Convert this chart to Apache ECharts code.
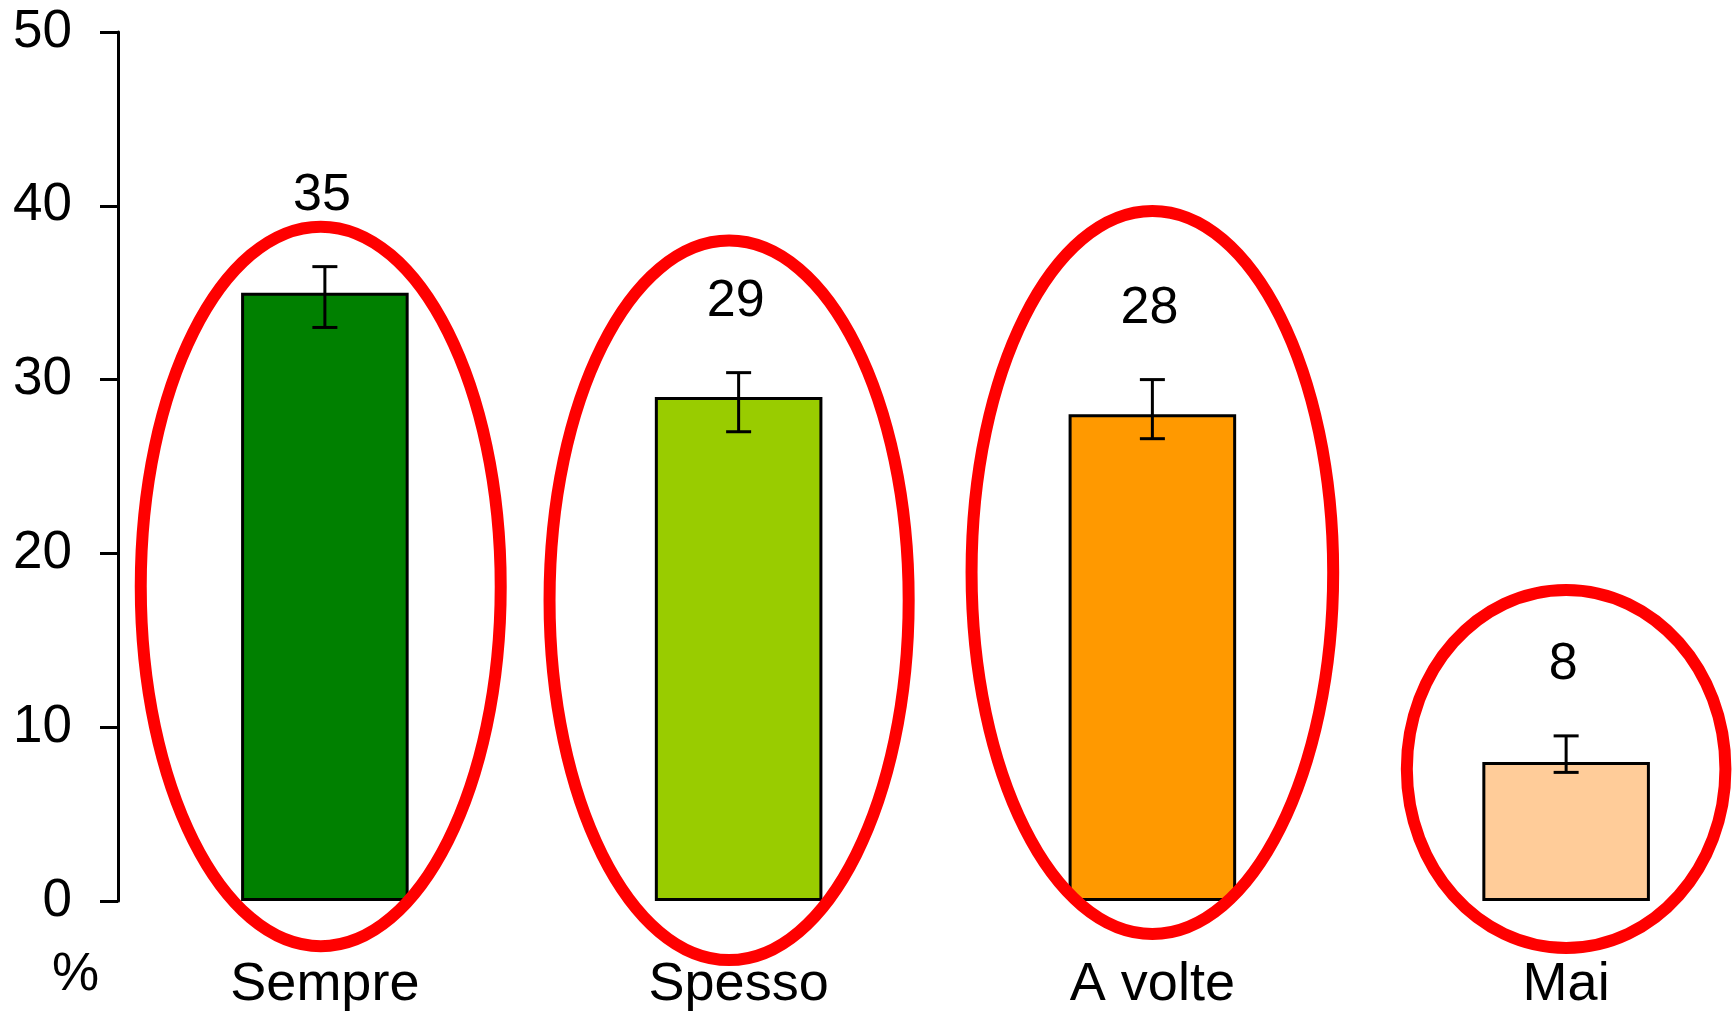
<!DOCTYPE html>
<html>
<head>
<meta charset="utf-8">
<script src="https://cdn.jsdelivr.net/npm/echarts@6/dist/echarts.min.js"></script>
<style>
html, body { margin: 0; padding: 0; background: #fff; }
#chart { width: 1735px; height: 1011px; }
</style>
</head>
<body>
<div id="chart"></div>
<script>
const categories = ['Sempre', 'Spesso', 'A volte', 'Mai'];
const values = [35, 29, 28, 8];
const errLow = [33.0, 27.0, 26.6, 7.4];
const errHigh = [36.5, 30.4, 30.0, 9.5];
const barColors = ['#008000', '#99cc00', '#ff9900', '#ffcc99'];
const yTicks = [0, 10, 20, 30, 40, 50];
// red rings drawn round each bar: centre and half height in %, half width / shift in category widths
const ringCenter = [18.1, 17.3, 18.9, 7.6];
const ringHalfHeight = [20.7, 20.7, 20.8, 10.3];
const ringHalfWidth = [0.435, 0.434, 0.437, 0.385];
const ringShift = [-0.01, -0.023, 0, 0];

const font = 'Liberation Sans, Arial, sans-serif';

const chart = echarts.init(document.getElementById('chart'));

chart.setOption({
    animation: false,
    title: {
        text: '%',
        left: 47,
        top: 944,
        textStyle: { fontSize: 53, fontWeight: 'normal', color: '#000', fontFamily: font }
    },
    grid: {
        left: 118,
        top: 32,
        right: -38,
        bottom: 110,
        containLabel: false,
        outerBoundsMode: 'none'
    },
    xAxis: {
        type: 'category',
        data: categories,
        axisLine: { show: false },
        axisTick: { show: false },
        axisLabel: { fontSize: 54, color: '#000', margin: 57, fontFamily: font },
        splitLine: { show: false }
    },
    yAxis: {
        type: 'value',
        min: yTicks[0],
        max: yTicks[yTicks.length - 1],
        interval: yTicks[1] - yTicks[0],
        axisLine: { show: true, lineStyle: { color: '#000', width: 3 } },
        axisTick: { show: true, length: 18, lineStyle: { color: '#000', width: 3 } },
        axisLabel: { fontSize: 53, color: '#000', margin: 46, fontFamily: font },
        splitLine: { show: false }
    },
    series: [
        {
            type: 'bar',
            barWidth: '40.5%',
            data: values.map((v, i) => ({
                value: v,
                itemStyle: { color: barColors[i], borderColor: '#000', borderWidth: 3 }
            })),
            z: 2
        },
        {
            type: 'custom',
            data: categories.map((c, i) => [i, errLow[i], errHigh[i], values[i]]),
            renderItem: function (params, api) {
                const i = api.value(0);
                const lo = api.coord([i, api.value(1)]);
                const hi = api.coord([i, api.value(2)]);
                const half = 12.5;
                const st = { stroke: '#000', lineWidth: 3 };
                return {
                    type: 'group',
                    children: [
                        { type: 'line', shape: { x1: hi[0], y1: hi[1], x2: lo[0], y2: lo[1] }, style: st },
                        { type: 'line', shape: { x1: hi[0] - half, y1: hi[1], x2: hi[0] + half, y2: hi[1] }, style: st },
                        { type: 'line', shape: { x1: lo[0] - half, y1: lo[1], x2: lo[0] + half, y2: lo[1] }, style: st },
                        {
                            type: 'text',
                            x: hi[0] - 3,
                            y: hi[1] - 71,
                            style: {
                                text: String(api.value(3)),
                                fontSize: 52,
                                fontFamily: font,
                                fill: '#000',
                                align: 'center',
                                verticalAlign: 'middle'
                            }
                        }
                    ]
                };
            },
            z: 3
        },
        {
            type: 'custom',
            clip: false,
            data: categories.map((c, i) => [i, ringCenter[i], ringHalfHeight[i], ringHalfWidth[i], ringShift[i]]),
            renderItem: function (params, api) {
                const i = api.value(0);
                const c = api.coord([i, api.value(1)]);
                const t = api.coord([i, api.value(1) + api.value(2)]);
                const band = api.size([1, 0])[0];
                return {
                    type: 'ellipse',
                    shape: {
                        cx: c[0] + api.value(4) * band,
                        cy: c[1],
                        rx: api.value(3) * band,
                        ry: c[1] - t[1]
                    },
                    style: { fill: 'none', stroke: '#ff0000', lineWidth: 12 }
                };
            },
            z: 4
        }
    ]
});
</script>
</body>
</html>
